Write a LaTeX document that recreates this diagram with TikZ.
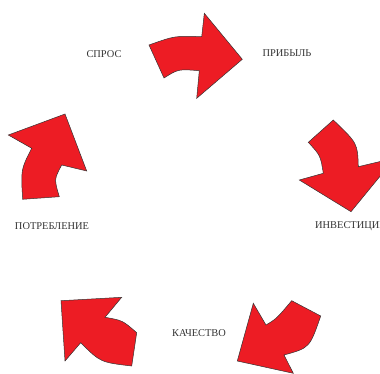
\documentclass[tikz,border=0pt]{standalone}
\usepackage{fontspec}
\setmainfont{Liberation Serif}
\definecolor{arrred}{HTML}{ED1C24}
\definecolor{labgray}{HTML}{333333}
\tikzset{
  bigarrow/.style={fill=arrred,draw=black!80,line width=0.5pt,line join=miter},
  lab/.style={text=labgray,font=\fontsize{10.4}{12}\selectfont,inner sep=0pt}
}
\begin{document}
\begin{tikzpicture}[x=1pt,y=-1pt]
	\useasboundingbox (0,0) rectangle (380,374);
	\clip (0,0) rectangle (380,374);
	% labels
	\node[lab] (spros) at (104,54) {СПРОС};
	\node[lab] (prib) at (287,53) {ПРИБЫЛЬ};
	\node[lab,anchor=west] (inv) at (315,226) {ИНВЕСТИЦИИ};
	\node[lab] (kach) at (199,333) {КАЧЕСТВО};
	\node[lab] (potr) at (52,226) {ПОТРЕБЛЕНИЕ};
	% arrows
	\draw[bigarrow] (149,45) .. controls (174.7,35.8) .. (201.7,36.7) -- (204.3,13.3) -- (242.3,59.3)
		-- (196.7,98.3) -- (199.3,70.7) .. controls (178.3,69) .. (164,78) -- cycle;
	\draw[bigarrow] (308.3,142.3) -- (333.3,120) .. controls (357.6,143.3) .. (358.3,166.7) -- (395,158)
		-- (351,211.7) -- (299.3,180) -- (323.3,173.3) .. controls (320.5,155.6) .. cycle;
	\draw[bigarrow] (291.7,300.7) -- (320.7,316) .. controls (309.7,347.9) .. (284,355) -- (293.3,373.3)
		-- (237.3,361) -- (253.3,303.3) -- (266,325) .. controls (276.6,318.6) .. cycle;
	\draw[bigarrow] (61,300.7) -- (121.7,297.3) -- (105,317.3) .. controls (122.6,320.4) .. (136.7,332.7)
		-- (131.7,366) .. controls (100.4,362.3) .. (80.7,342.7) -- (65,361) -- cycle;
	\draw[bigarrow] (8.3,135) -- (65,114) -- (86.7,171) -- (61.7,165) .. controls (54.1,179.2) .. (59.3,196.7)
		-- (22.7,199.3) .. controls (20.8,169.6) .. (31.7,148.3) -- cycle;
\end{tikzpicture}
\end{document}
